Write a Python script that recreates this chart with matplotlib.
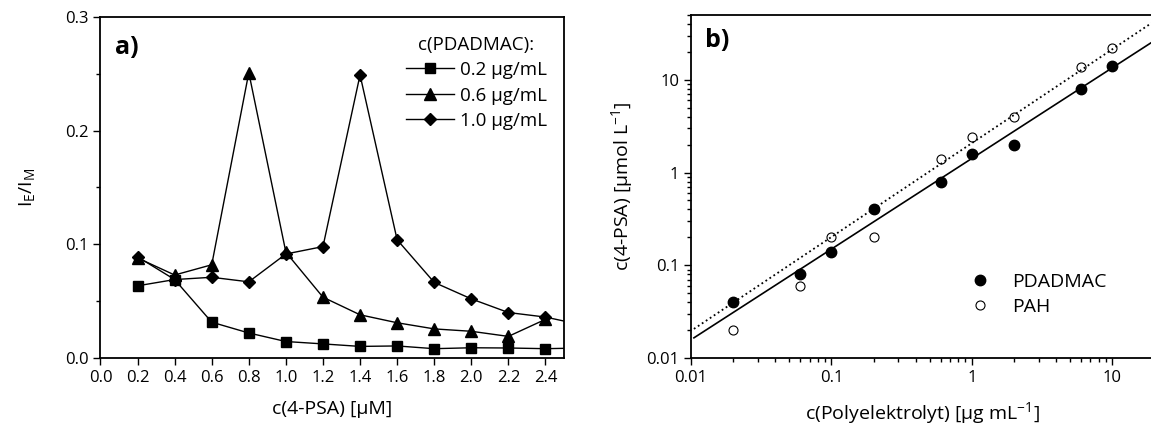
"""
Two-panel figure: I_E/I_M vs c(4-PSA) and 4-PSA uptake vs polyelectrolyte conc.
"""

import numpy as np
import matplotlib
matplotlib.use("Agg")
import matplotlib.pyplot as plt
from matplotlib.ticker import LogLocator, MultipleLocator, FixedLocator, FixedFormatter, NullFormatter

plt.rcParams["font.family"] = ["Open Sans", "DejaVu Sans"]
plt.rcParams["mathtext.fontset"] = "custom"
plt.rcParams["mathtext.rm"] = "Open Sans"
plt.rcParams["mathtext.it"] = "Open Sans"

# panel a) data
c_psa = [0.2, 0.4, 0.6, 0.8, 1.0, 1.2, 1.4, 1.6, 1.8, 2.0, 2.2, 2.4, 2.6]
ratio_02 = [0.0635, 0.069, 0.0315, 0.022, 0.0145, 0.0124, 0.0102, 0.0106, 0.0082, 0.009, 0.0088, 0.0082, 0.0088]
ratio_06 = [0.088, 0.073, 0.082, 0.251, 0.093, 0.0535, 0.038, 0.031, 0.0256, 0.0235, 0.019, 0.034]
ratio_10 = [0.089, 0.069, 0.071, 0.067, 0.0915, 0.098, 0.249, 0.104, 0.0665, 0.052, 0.040, 0.036, 0.029]

# panel b) data
c_poly = [0.02, 0.06, 0.1, 0.2, 0.6, 1, 2, 6, 10]
psa_pdadmac = [0.04, 0.08, 0.14, 0.40, 0.80, 1.6, 2.0, 8.0, 14.2]
psa_pah = [0.02, 0.06, 0.20, 0.20, 1.4, 2.4, 4.0, 13.8, 22.0]
# fitted lines (end points)
fit_x = [0.0105, 20]
fit_pdadmac = [0.0165, 26.5]
fit_pah = [0.0206, 43.0]

fig = plt.figure(figsize=(11.51, 4.29), dpi=100)
ax1 = fig.add_axes([0.0873, 0.1655, 0.4027, 0.795])
ax2 = fig.add_axes([0.6003, 0.1655, 0.4027, 0.7995])

lw = 1.0
ax1.plot(c_psa[:len(ratio_02)], ratio_02, "k-", marker="s", ms=6.5, lw=lw, label="0.2 µg/mL")
ax1.plot(c_psa[:len(ratio_06)], ratio_06, "k-", marker="^", ms=8, lw=lw, label="0.6 µg/mL")
ax1.plot(c_psa[:len(ratio_10)], ratio_10, "k-", marker="D", ms=6.5, lw=lw, label="1.0 µg/mL")

ax1.set_xlim(0, 2.5)
ax1.set_ylim(0, 0.3)
ax1.xaxis.set_major_locator(MultipleLocator(0.2))
ax1.xaxis.set_major_formatter(plt.FuncFormatter(lambda v, p: f"{v:.1f}"))
ax1.yaxis.set_major_locator(MultipleLocator(0.1))
ax1.yaxis.set_minor_locator(MultipleLocator(0.05))
ax1.yaxis.set_major_formatter(plt.FuncFormatter(lambda v, p: f"{v:.1f}"))
ax1.set_xlabel("c(4-PSA) [µM]", fontsize=14, labelpad=10)
ax1.set_ylabel(r"$\mathregular{I_E/I_M}$", fontsize=14, labelpad=20)
ax1.text(0.031, 0.947, "a)", transform=ax1.transAxes, fontsize=18, fontweight="bold", va="top")
ax1.legend(loc="upper right", bbox_to_anchor=(1.0, 0.995), frameon=False,
           title="c(PDADMAC):", fontsize=13.5, title_fontsize=13.5,
           handlelength=2.6, handletextpad=0.3, labelspacing=0.4)

ax2.loglog(c_poly, psa_pdadmac, "o", color="black", ms=7.5, label="PDADMAC")
ax2.loglog(c_poly, psa_pah, "o", mfc="white", mec="black", mew=0.8, ms=6.5, label="PAH")
ax2.plot(fit_x, fit_pdadmac, "k-", lw=1.2)
ax2.plot(fit_x, fit_pah, "k:", lw=1.3)

ax2.set_xlim(0.01, 20)
ax2.set_ylim(0.01, 50)
decades = [0.01, 0.1, 1, 10]
decade_labels = ["0.01", "0.1", "1", "10"]
ax2.xaxis.set_major_locator(FixedLocator(decades))
ax2.xaxis.set_major_formatter(FixedFormatter(decade_labels))
ax2.yaxis.set_major_locator(FixedLocator(decades))
ax2.yaxis.set_major_formatter(FixedFormatter(decade_labels))
for axis in (ax2.xaxis, ax2.yaxis):
    axis.set_minor_locator(LogLocator(base=10, subs=np.arange(2, 10), numticks=20))
    axis.set_minor_formatter(NullFormatter())
ax2.set_xlabel(r"c(Polyelektrolyt) [µg mL$^{\mathregular{-1}}$]", fontsize=14, labelpad=10)
ax2.set_ylabel(r"c(4-PSA) [µmol L$^{\mathregular{-1}}$]", fontsize=14, labelpad=8)
ax2.text(0.030, 0.962, "b)", transform=ax2.transAxes, fontsize=18, fontweight="bold", va="top")
ax2.legend(loc="lower right", bbox_to_anchor=(0.913, 0.10), frameon=False, fontsize=14,
           handletextpad=0.65, labelspacing=0.35, borderaxespad=0)

for ax in (ax1, ax2):
    ax.tick_params(which="major", direction="out", length=5, width=1, labelsize=12, top=False, right=False)
    ax.tick_params(which="minor", direction="out", length=3.2, width=1, top=False, right=False)
    for sp in ax.spines.values():
        sp.set_linewidth(1.3)
ax1.tick_params(axis="x", which="minor", length=0)

fig.savefig("out.png", dpi=100)
